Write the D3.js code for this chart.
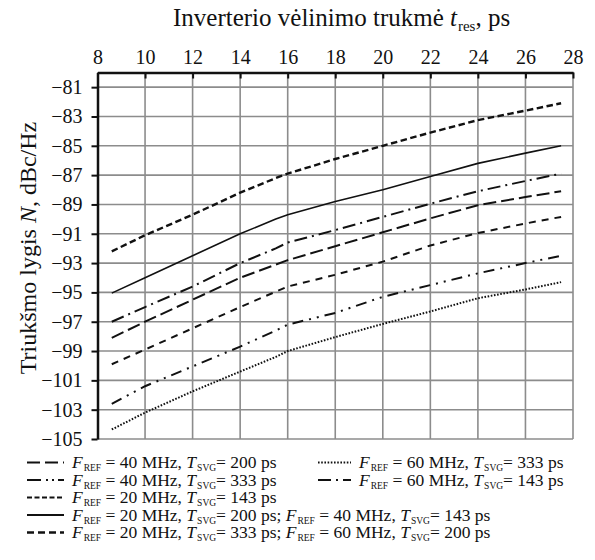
<!DOCTYPE html>
<html>
<head>
<meta charset="utf-8">
<script src="https://cdn.jsdelivr.net/npm/d3@7"></script>
<style>
  body { margin: 0; background: #fff; }
  svg text { font-family: "Liberation Serif", serif; fill: #111; }
</style>
</head>
<body>
<div id="chart"></div>
<script>
// Delay values (x) shared by every curve
const delays = [8.6, 10, 12, 14, 15.5, 16, 18, 20, 22, 24, 26, 27.5];

// Noise level, dBc/Hz, per series
const noise20_333 = [-92.2, -91.1, -89.7, -88.2, -87.2, -86.9, -85.9, -85.0, -84.1, -83.25, -82.6, -82.1];
const noise20_200 = [-95.05, -94.0, -92.5, -91.0, -90.0, -89.7, -88.8, -88.0, -87.1, -86.2, -85.5, -85.0];
const noise60_143 = [-97.0, -96.0, -94.6, -93.0, -92.0, -91.6, -90.75, -89.85, -88.95, -88.1, -87.4, -86.9];
const noise40_200 = [-98.1, -97.0, -95.5, -94.0, -93.1, -92.8, -91.85, -90.9, -89.95, -89.05, -88.5, -88.1];
const noise20_143 = [-99.9, -98.9, -97.45, -96.0, -94.95, -94.6, -93.8, -92.9, -91.8, -90.95, -90.3, -89.85];
const noise40_333 = [-102.6, -101.4, -100.05, -98.7, -97.6, -97.2, -96.4, -95.3, -94.5, -93.7, -93.0, -92.5];
const noise60_333 = [-104.35, -103.2, -101.75, -100.4, -99.4, -99.0, -98.05, -97.15, -96.3, -95.4, -94.8, -94.3];

const xTicks = [8, 10, 12, 14, 16, 18, 20, 22, 24, 26, 28];
const yTicks = [-81, -83, -85, -87, -89, -91, -93, -95, -97, -99, -101, -103, -105];

const seriesList = [
  { values: noise20_333, dash: "6.5,3.5", width: 2.4 },
  { values: noise20_200, dash: null, width: 1.6 },
  { values: noise60_143, dash: "13,5,2,5", width: 2 },
  { values: noise40_200, dash: "13,5", width: 2 },
  { values: noise20_143, dash: "7,6", width: 2 },
  { values: noise40_333, dash: "11,6,2,6,2,6", width: 2 },
  { values: noise60_333, dash: "1.6,1.6", width: 2 }
];

const width = 595, height = 560;
const margin = { top: 72.5, right: 22, bottom: 121, left: 97.5 };
const chartWidth = width - margin.left - margin.right;
const chartHeight = height - margin.top - margin.bottom;
const serif = "Liberation Serif";

const svg = d3.select("#chart").append("svg")
  .attr("width", width)
  .attr("height", height)
  .attr("font-family", serif);

const g = svg.append("g")
  .attr("transform", `translate(${margin.left},${margin.top})`);

const xScale = d3.scaleLinear().domain([8, 28]).range([0, chartWidth]);
const yScale = d3.scaleLinear().domain([-105, -80]).range([chartHeight, 0]);

// Grid
g.append("g").selectAll("line")
  .data(xTicks.slice(1))
  .enter().append("line")
  .attr("x1", d => xScale(d)).attr("x2", d => xScale(d))
  .attr("y1", 0).attr("y2", chartHeight)
  .attr("stroke", "#8c8c8c").attr("stroke-width", 1.6);

g.append("g").selectAll("line")
  .data(yTicks)
  .enter().append("line")
  .attr("x1", 0).attr("x2", chartWidth)
  .attr("y1", d => yScale(d)).attr("y2", d => yScale(d))
  .attr("stroke", "#8c8c8c").attr("stroke-width", 1.6);

// Curves
const line = d3.line()
  .x((d, i) => xScale(delays[i]))
  .y(d => yScale(d));

seriesList.forEach(s => {
  g.append("path")
    .datum(s.values)
    .attr("fill", "none")
    .attr("stroke", "#111")
    .attr("stroke-width", s.width)
    .attr("stroke-dasharray", s.dash)
    .attr("d", line);
});

// Top axis (ticks inside)
const xAxis = g.append("g")
  .call(d3.axisTop(xScale).tickValues(xTicks).tickSizeInner(-6).tickSizeOuter(0).tickPadding(9));
xAxis.select(".domain").attr("stroke", "#111").attr("stroke-width", 2.5);
xAxis.selectAll("line").attr("stroke", "#111").attr("stroke-width", 2);

// Left axis (ticks outside)
const yAxis = g.append("g")
  .call(d3.axisLeft(yScale).tickValues(yTicks).tickSize(6).tickSizeOuter(0).tickPadding(9));
yAxis.select(".domain").attr("stroke", "#111").attr("stroke-width", 2.5);
yAxis.selectAll("line").attr("stroke", "#111").attr("stroke-width", 2);

[xAxis, yAxis].forEach(ax => {
  ax.attr("font-family", null).attr("font-size", null);
  ax.selectAll("text")
    .style("font-family", "'Liberation Serif', serif")
    .style("font-size", "20px")
    .attr("fill", "#111");
});

// Titles
const xTitle = svg.append("text")
  .attr("x", 173).attr("y", 26)
  .style("font-size", "25px");
xTitle.append("tspan").text("Inverterio vėlinimo trukmė ");
xTitle.append("tspan").style("font-style", "italic").text("t");
xTitle.append("tspan").attr("dx", 1).attr("dy", 5).style("font-size", "15px").text("res");
xTitle.append("tspan").attr("dy", -5).text(", ps");

const yTitle = svg.append("text")
  .attr("transform", "translate(36, 248) rotate(-90)")
  .attr("text-anchor", "middle")
  .style("font-size", "24px");
yTitle.append("tspan").text("Triukšmo lygis ");
yTitle.append("tspan").style("font-style", "italic").text("N");
yTitle.append("tspan").text(", dBc/Hz");

// Legend
const legendRows = [
  { x: 27, y: 468, dash: "13,5", width: 2.2, parts: [["F", "REF", " = 40 MHz, "], ["T", "SVG", "= 200 ps"]] },
  { x: 318, y: 468, dash: "1.6,1.6", width: 2, parts: [["F", "REF", " = 60 MHz, "], ["T", "SVG", "= 333 ps"]] },
  { x: 27, y: 485.5, dash: "14,5,2,4,2,4", width: 2.2, parts: [["F", "REF", " = 40 MHz, "], ["T", "SVG", "= 333 ps"]] },
  { x: 318, y: 485.5, dash: "13,5,2,5", width: 2.2, parts: [["F", "REF", " = 60 MHz, "], ["T", "SVG", "= 143 ps"]] },
  { x: 27, y: 503, dash: "5,2.5", width: 2, parts: [["F", "REF", " = 20 MHz, "], ["T", "SVG", "= 143 ps"]] },
  { x: 27, y: 520.5, dash: null, width: 1.8, parts: [["F", "REF", " = 20 MHz, "], ["T", "SVG", "= 200 ps; "], ["F", "REF", " = 40 MHz, "], ["T", "SVG", "= 143 ps"]] },
  { x: 27, y: 538, dash: "7,4", width: 2.4, parts: [["F", "REF", " = 20 MHz, "], ["T", "SVG", "= 333 ps; "], ["F", "REF", " = 60 MHz, "], ["T", "SVG", "= 200 ps"]] }
];

legendRows.forEach(r => {
  const sampleLen = r.x > 200 ? 33 : 37;
  svg.append("line")
    .attr("x1", r.x).attr("x2", r.x + sampleLen)
    .attr("y1", r.y - 5.5).attr("y2", r.y - 5.5)
    .attr("stroke", "#111")
    .attr("stroke-width", r.width)
    .attr("stroke-dasharray", r.dash);
  const t = svg.append("text")
    .attr("x", r.x + sampleLen + 8).attr("y", r.y)
    .style("font-size", "17.5px");
  r.parts.forEach(p => {
    t.append("tspan").style("font-style", "italic").text(p[0]);
    t.append("tspan").attr("dx", 1).attr("dy", 3).style("font-size", "9.5px").text(p[1]);
    t.append("tspan").attr("dy", -3).text(p[2]);
  });
});
</script>
</body>
</html>
